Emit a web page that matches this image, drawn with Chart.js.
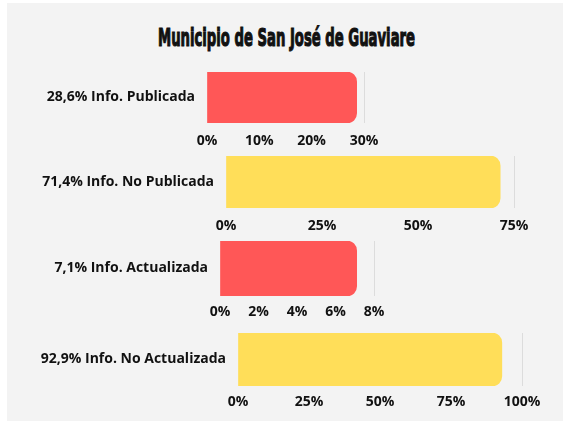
<!DOCTYPE html>
<html>
<head>
<meta charset="utf-8">
<script src="https://cdn.jsdelivr.net/npm/chart.js@4.4.1/dist/chart.umd.min.js"></script>
<style>
  html, body { margin: 0; padding: 0; background: #ffffff; }
  #wrap { position: relative; width: 563px; height: 421px; overflow: hidden; background: #ffffff; }
  #panel { position: absolute; left: 7px; top: 3px; right: 0; bottom: 0; background: #f3f3f3; }
  #title { position: absolute; left: 286px; top: 26px; white-space: nowrap;
           font-family: "DejaVu Sans", sans-serif; font-weight: bold;
           font-size: 24px; line-height: 24px; color: #111; transform-origin: 0 0;
           -webkit-text-stroke: 1.2px #111; }
  canvas { position: absolute; left: 0; }
</style>
</head>
<body>
<div id="wrap">
  <div id="panel"></div>
  <div id="title">Municipio de San José de Guaviare</div>
  <canvas id="c0"></canvas>
  <canvas id="c1"></canvas>
  <canvas id="c2"></canvas>
  <canvas id="c3"></canvas>
</div>
<script>
// ---- data ----
const categories = ["28,6% Info. Publicada", "71,4% Info. No Publicada", "7,1% Info. Actualizada", "92,9% Info. No Actualizada"];
const values = [28.6, 71.4, 7.1, 92.9];
const axisMax = [30, 75, 8, 100];
const axisStep = [10, 25, 2, 25];

// ---- styling / layout (not data) ----
const barColors = ["#ff5757", "#ffde59", "#ff5757", "#ffde59"];
const areaLeft = [207, 226, 220, 238];
const areaRight = [364, 514, 374, 522];
const areaTop = [72, 156, 241, 333];
const areaBottom = [123, 208, 296, 386];
const tickPad = [10, 10, 8, 8];
const W = 563;
const AXIS_H = 32;
const labelFont = { family: "'Open Sans', sans-serif", weight: 'bold', size: 14 };

// condensed title: squeeze to reference width
(function () {
  const t = document.getElementById('title');
  const w = t.offsetWidth;
  const target = 257;
  const s = target / w;
  t.style.left = (286.5 - target / 2) + 'px';
  t.style.transform = 'scale(' + s + ', 1)';
})();

categories.forEach((cat, i) => {
  const cv = document.getElementById('c' + i);
  const h = (areaBottom[i] - areaTop[i]) + AXIS_H;
  cv.style.top = areaTop[i] + 'px';
  cv.width = W; cv.height = h;
  cv.style.width = W + 'px'; cv.style.height = h + 'px';
  const max = axisMax[i];
  new Chart(cv, {
    type: 'bar',
    data: {
      labels: [cat],
      datasets: [{
        data: [values[i]],
        backgroundColor: barColors[i],
        borderWidth: 0,
        borderRadius: 10,
        borderSkipped: 'start',
        barPercentage: 1,
        categoryPercentage: 1
      }]
    },
    options: {
      indexAxis: 'y',
      responsive: false,
      animation: false,
      maintainAspectRatio: false,
      layout: { padding: { left: 0, top: 0, bottom: 0, right: W - areaRight[i] } },
      plugins: { legend: { display: false }, tooltip: { enabled: false }, title: { display: false } },
      scales: {
        x: {
          min: 0, max: max,
          border: { display: false },
          grid: {
            drawTicks: false,
            color: (ctx) => (ctx.tick && ctx.tick.value === max) ? '#dcdcdc' : 'rgba(0,0,0,0)',
            lineWidth: 1
          },
          ticks: {
            stepSize: axisStep[i],
            color: '#111111',
            font: labelFont,
            padding: tickPad[i],
            maxRotation: 0,
            autoSkip: false,
            callback: (v) => v + '%'
          },
          afterFit: (s) => { s.height = AXIS_H; s.paddingLeft = 0; s.paddingRight = 0; }
        },
        y: {
          border: { display: false },
          grid: { display: false, drawTicks: false },
          ticks: { color: '#111111', font: labelFont, padding: 12 },
          afterFit: (s) => { s.width = areaLeft[i]; s.paddingTop = 0; s.paddingBottom = 0; }
        }
      }
    }
  });
});
</script>
</body>
</html>
